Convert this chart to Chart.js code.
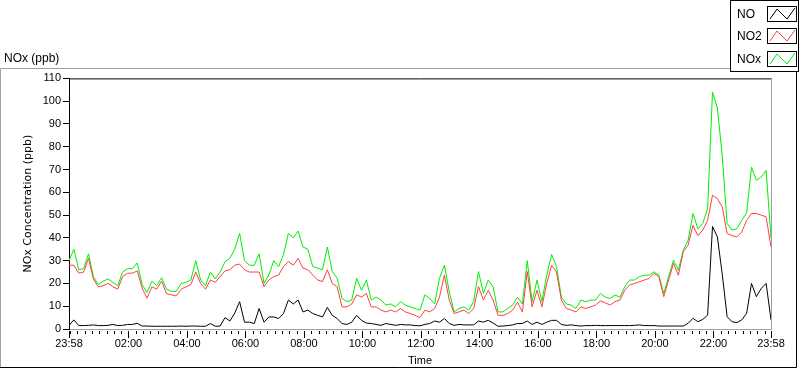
<!DOCTYPE html>
<html><head><meta charset="utf-8">
<script src="https://cdn.jsdelivr.net/npm/chart.js@4"></script>
<style>html,body{margin:0;padding:0;background:#fff;overflow:hidden}</style>
</head><body>
<canvas id="c" width="800" height="369"></canvas>
<script>
// ---- data (sampled every 10 minutes, starting at 23:58) ----
const stepMinutes = 10;
const noValues = [1.6,4,1.5,1.5,1.6,1.8,1.5,1.5,1.6,2,1.5,1.6,2,2,2.5,1.3,1.3,1.2,1.2,1.2,
  1.2,1.2,1.2,1.3,1.2,1.3,1.3,1.2,1.2,2.4,1.2,1.3,5,3.5,7,12,3,3,2.4,9,
  3,5.3,5.3,4.6,6.8,12.7,11,12.7,7.5,8.3,6.8,6,5.3,9.5,6,4.6,2.4,2,3,6,
  3.8,2.6,2.4,2,1.6,2.4,2,1.6,2,1.8,1.8,1.5,1.4,2,2.4,3.5,3,4.6,2.4,1.6,
  2,1.8,1.8,1.8,3.5,3,3.8,2.6,1.2,1.3,1.5,1.8,2.4,2.4,3.5,2,3,2,3,3.8,
  3.8,2,1.6,1.8,1.5,1.3,1.5,1.5,1.6,1.5,1.5,1.5,1.5,1.5,1.5,1.5,1.6,1.8,1.5,1.5,
  1.5,1.3,1.3,1.3,1.3,1.3,1.3,2.5,4.7,3.2,4.2,6.1,45,40.4,24,5.4,3.2,2.8,4,6.9,
  20,14.2,17.8,20,4];
const no2Values = [28,28,24.5,25,31,22,18.5,19,20,18.5,17.5,23,24.5,24.5,25.5,18,13.5,18.5,17.5,21,
  15.5,15,14.5,17.5,18.5,19.5,25,20,17.5,21.5,20.5,23,25.5,26,28,28.5,26,25,25,25,
  18.6,21.5,23,23.7,27.4,29.6,28,31,26.7,26,23.7,21.5,20.8,26,20,18.6,9.7,9.7,11,15,
  14,15.6,9.7,9.7,8.3,7.5,8.3,7.5,9,7.5,6.8,6,5,8.3,7.5,9,14,23.7,12.7,6.8,
  7.5,8.3,6.8,9,18.6,12.7,17,12.7,6,6,6.8,8.3,11.8,7.5,25.2,9.7,17,9.7,20,28,
  25,12.7,9,8.3,7.5,9.7,9,9.7,10.5,12.3,11.5,10.5,12,12.7,17,19.3,20,20.7,21.5,22.2,
  24.4,23,14.2,21.5,28.8,23.6,33.9,36.8,45.5,41,43.4,47.7,58.7,57.2,53.6,41.9,41,40.4,42.6,47.7,
  50.7,50.7,50,49.2,36];
const noxValues = [30,35,26,26.5,33,23,19.5,21,22,20.5,19,25,26.5,26.5,29,19.5,16,21,19,22.5,
  17.5,16.5,16.5,20,20.5,21.5,30,21.5,19,25,22,25,29.5,31,35,42,30,28,28,33,
  20,23.7,30,27.4,32.6,42,40,43,36,35,27.4,26.7,26,36,25.2,22.3,13.4,12,12.7,22.3,
  17,21.5,12.7,14,12.7,10.5,11,9.7,12,10.5,9.7,9,8.3,15,13.4,11,22.3,28,16.4,7.5,
  9,9.7,8.3,12,25.2,15.6,21.5,18.6,7.5,7.5,9,10.5,14,11,30,12,21.5,12,23.7,32.7,
  27.4,14,11,10.5,9,12.7,12,12.7,12.7,15.6,14,13.4,14.9,14,18.5,21.5,21.5,23,23.6,23.6,
  25.1,23.6,15.6,23,30.2,25.8,34.6,39,50.7,44,46.3,53,104,97,76,46.3,43.4,44,47.7,51,
  71,65.3,66.7,69.6,40];
const seriesNames = ['NO', 'NO2', 'NOx'];
const seriesColors = ['#000000', '#ff4040', '#00ee00'];
const yTickValues = [0,10,20,30,40,50,60,70,80,90,100,110];
const xLabelMinutes = [0,122,242,362,482,602,722,842,962,1082,1202,1322,1440];
const xLabelTexts = ['23:58','02:00','04:00','06:00','08:00','10:00','12:00','14:00','16:00','18:00','20:00','22:00','23:58'];
const minorTickStart = 2, minorTickStep = 15, spanMinutes = 1440;

const FONT = "'Liberation Sans', Arial, sans-serif";
const toPoints = vals => vals.map((v, i) => ({x: i * stepMinutes, y: v}));
const seriesValues = [noValues, no2Values, noxValues];

const framePlugin = {
  id: 'framePlugin',
  beforeDraw(chart) {
    const ctx = chart.ctx;
    ctx.save();
    ctx.fillStyle = '#fff';
    ctx.fillRect(0, 0, chart.width, chart.height);
    ctx.restore();
  },
  afterDraw(chart) {
    const ctx = chart.ctx, a = chart.chartArea, xs = chart.scales.x;
    ctx.save();
    ctx.lineWidth = 1;
    ctx.strokeStyle = '#000';
    ctx.beginPath(); ctx.moveTo(a.left, a.top + 0.5); ctx.lineTo(a.right + 1, a.top + 0.5); ctx.stroke();
    ctx.strokeStyle = '#a0a0a0';
    ctx.beginPath(); ctx.moveTo(a.right + 0.5, a.top); ctx.lineTo(a.right + 0.5, a.bottom + 1); ctx.stroke();
    ctx.strokeStyle = '#000';
    xs.ticks.forEach(t => {
      const px = Math.round(xs.getPixelForValue(t.value)) + 0.5;
      const major = xLabelMinutes.includes(t.value);
      ctx.beginPath();
      ctx.moveTo(px, a.bottom + 2);
      ctx.lineTo(px, a.bottom + (major ? 9 : 5));
      ctx.stroke();
    });
    ctx.strokeStyle = '#a0a0a0';
    ctx.beginPath(); ctx.moveTo(0.5, 368); ctx.lineTo(0.5, 68.5); ctx.lineTo(730, 68.5); ctx.stroke();
    ctx.strokeStyle = '#000';
    ctx.beginPath(); ctx.moveTo(0, 367.5); ctx.lineTo(796.5, 367.5); ctx.lineTo(796.5, 72); ctx.stroke();
    ctx.fillStyle = '#fff';
    ctx.fillRect(730, 0, 70, 72);
    ctx.strokeStyle = '#000';
    ctx.strokeRect(730.5, 0.5, 68, 71);
    const rowY = [14, 36, 59];
    ctx.font = '12px ' + FONT;
    ctx.textBaseline = 'middle';
    ctx.textAlign = 'left';
    chart.data.datasets.forEach((ds, i) => {
      const y = rowY[i];
      ctx.fillStyle = '#000';
      ctx.fillText(ds.label, 737, y + 1);
      ctx.strokeStyle = '#000';
      ctx.strokeRect(767.5, y - 7.5, 29, 15);
      ctx.strokeStyle = ds.borderColor;
      ctx.beginPath();
      ctx.moveTo(770, y + 5); ctx.lineTo(777, y - 5); ctx.lineTo(787, y + 5); ctx.lineTo(795, y - 6);
      ctx.stroke();
    });
    ctx.restore();
  }
};

new Chart(document.getElementById('c'), {
  type: 'line',
  data: {
    datasets: seriesNames.map((n, i) => ({
      label: n,
      data: toPoints(seriesValues[i]),
      borderColor: seriesColors[i],
      backgroundColor: seriesColors[i],
      borderWidth: 1,
      pointRadius: 0,
      tension: 0,
      fill: false
    }))
  },
  options: {
    responsive: false,
    animation: false,
    events: [],
    layout: {padding: {left: 4, right: 29, top: 0, bottom: 0}},
    plugins: {
      legend: {display: false},
      tooltip: {enabled: false},
      title: {
        display: true, text: 'NOx (ppb)', align: 'start', color: '#000',
        font: {family: FONT, size: 12, weight: 'normal'},
        padding: {top: 51, bottom: 13}
      }
    },
    scales: {
      x: {
        type: 'linear', min: 0, max: spanMinutes,
        afterBuildTicks(s) {
          const vals = [0];
          for (let m = minorTickStart; m < spanMinutes; m += minorTickStep) vals.push(m);
          vals.push(spanMinutes);
          s.ticks = vals.map(v => ({value: v}));
        },
        afterFit(s) { s.height = 40; },
        grid: {display: false, drawTicks: true, tickLength: 8},
        border: {display: true, color: '#a0a0a0', width: 1},
        ticks: {
          autoSkip: false, maxRotation: 0, minRotation: 0, padding: 0, color: '#000',
          font: {family: FONT, size: 11},
          callback(v) { const i = xLabelMinutes.indexOf(v); return i >= 0 ? xLabelTexts[i] : ''; }
        },
        title: {display: true, text: 'Time', color: '#000', font: {family: FONT, size: 11}, padding: {top: 0, bottom: 1}}
      },
      y: {
        min: 0, max: 110,
        afterBuildTicks(s) { s.ticks = yTickValues.map(v => ({value: v})); },
        afterFit(s) { s.width = 65; },
        grid: {display: true, drawOnChartArea: false, drawTicks: true, tickLength: 6, tickColor: '#000'},
        border: {display: true, color: '#000', width: 1},
        ticks: {padding: 2, color: '#000', font: {family: FONT, size: 11}},
        title: {display: true, text: 'NOx Concentration (ppb)', color: '#000', font: {family: "'DejaVu Sans', sans-serif", size: 11}, padding: {top: 18, bottom: 0}}
      }
    }
  },
  plugins: [framePlugin]
});
</script>
</body></html>
